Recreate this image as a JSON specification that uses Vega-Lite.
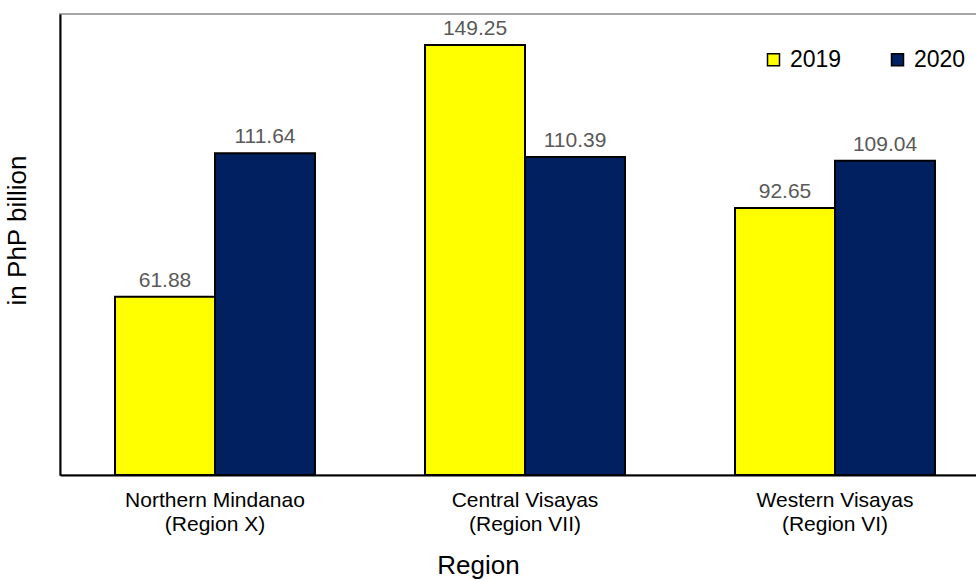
{
  "$schema": "https://vega.github.io/schema/vega-lite/v6.json",
  "width": 930,
  "height": 461,
  "autosize": {"type": "none"},
  "padding": {"left": 60, "top": 14, "right": 0, "bottom": 105},
  "background": "white",
  "config": {
    "font": "Liberation Sans",
    "view": {"stroke": "#A6A6A6", "strokeWidth": 2}
  },
  "data": {
    "values": [
      {"region": "Northern Mindanao|(Region X)", "year": "2019", "value": 61.88},
      {"region": "Northern Mindanao|(Region X)", "year": "2020", "value": 111.64},
      {"region": "Central Visayas|(Region VII)", "year": "2019", "value": 149.25},
      {"region": "Central Visayas|(Region VII)", "year": "2020", "value": 110.39},
      {"region": "Western Visayas|(Region VI)", "year": "2019", "value": 92.65},
      {"region": "Western Visayas|(Region VI)", "year": "2020", "value": 109.04}
    ]
  },
  "encoding": {
    "x": {
      "field": "region",
      "type": "nominal",
      "sort": null,
      "scale": {"paddingInner": 0.355, "paddingOuter": 0.1775},
      "axis": {
        "title": "Region",
        "titleFontSize": 26,
        "titleFontWeight": "normal",
        "titleColor": "black",
        "titleX": 418,
        "titleY": 98,
        "titleBaseline": "alphabetic",
        "labelAngle": 0,
        "labelFontSize": 21,
        "labelColor": "black",
        "labelPadding": 14,
        "labelLineHeight": 24,
        "labelLimit": 300,
        "labelExpr": "split(datum.label, '|')",
        "ticks": false,
        "domainColor": "black",
        "domainWidth": 2
      }
    },
    "xOffset": {
      "field": "year",
      "type": "nominal",
      "scale": {"paddingInner": 0, "paddingOuter": 0}
    },
    "y": {
      "field": "value",
      "type": "quantitative",
      "scale": {"domain": [0, 160]},
      "axis": {
        "title": "in PhP billion",
        "titleFontSize": 26,
        "titleFontWeight": "normal",
        "titleColor": "black",
        "titleX": -30,
        "titleY": 216,
        "titleBaseline": "bottom",
        "labels": false,
        "ticks": false,
        "grid": false,
        "domainColor": "black",
        "domainWidth": 2
      }
    }
  },
  "layer": [
    {
      "mark": {"type": "bar", "stroke": "black", "strokeWidth": 2},
      "encoding": {
        "color": {
          "field": "year",
          "type": "nominal",
          "scale": {"domain": ["2019", "2020"], "range": ["#FFFF00", "#002060"]},
          "legend": {
            "orient": "none",
            "legendX": 702,
            "legendY": 34,
            "direction": "horizontal",
            "title": null,
            "symbolType": "square",
            "symbolSize": 144,
            "symbolStrokeColor": "black",
            "symbolStrokeWidth": 1.5,
            "symbolOpacity": 1,
            "labelFontSize": 23,
            "labelColor": "black",
            "labelOffset": 5,
            "columnPadding": 44
          }
        }
      }
    },
    {
      "mark": {"type": "text", "dy": -10, "baseline": "alphabetic", "fontSize": 21, "color": "#595959"},
      "encoding": {"text": {"field": "value", "type": "quantitative", "format": ".2f"}}
    }
  ]
}
